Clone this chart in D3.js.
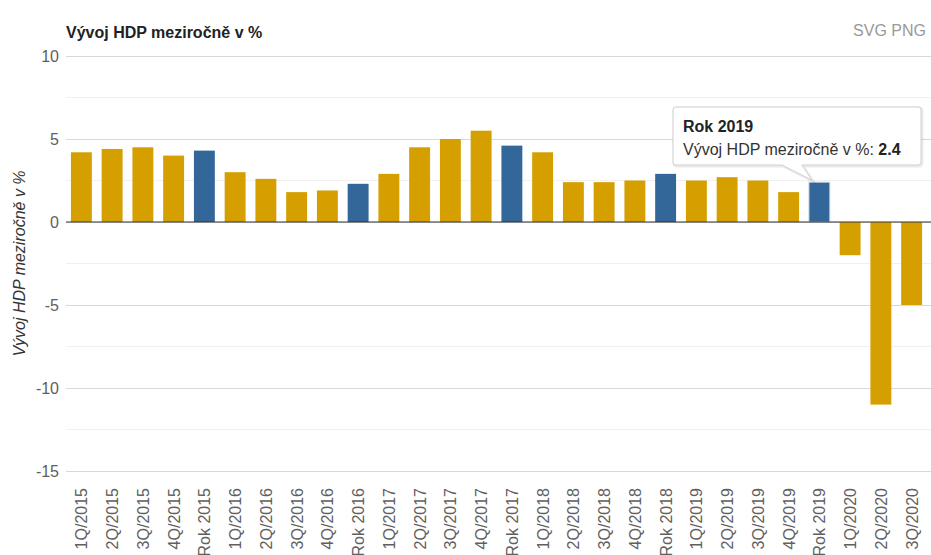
<!DOCTYPE html>
<html>
<head>
<meta charset="utf-8">
<script src="https://cdn.jsdelivr.net/npm/d3@7"></script>
<style>
  body { margin: 0; background: #fff; font-family: "Liberation Sans", Arial, sans-serif; }
  svg { display: block; }
</style>
</head>
<body>
<div id="chart"></div>
<script>
// kategorie (čtvrtletí a roky)
const categories = [
  "1Q/2015", "2Q/2015", "3Q/2015", "4Q/2015", "Rok 2015",
  "1Q/2016", "2Q/2016", "3Q/2016", "4Q/2016", "Rok 2016",
  "1Q/2017", "2Q/2017", "3Q/2017", "4Q/2017", "Rok 2017",
  "1Q/2018", "2Q/2018", "3Q/2018", "4Q/2018", "Rok 2018",
  "1Q/2019", "2Q/2019", "3Q/2019", "4Q/2019", "Rok 2019",
  "1Q/2020", "2Q/2020", "3Q/2020"
];
// meziroční vývoj HDP v %
const values = [
  4.2, 4.4, 4.5, 4.0, 4.3,
  3.0, 2.6, 1.8, 1.9, 2.3,
  2.9, 4.5, 5.0, 5.5, 4.6,
  4.2, 2.4, 2.4, 2.5, 2.9,
  2.5, 2.7, 2.5, 1.8, 2.4,
  -2.0, -11.0, -5.0
];
const majorTicks = [-15, -10, -5, 0, 5, 10];
const minorTicks = [-12.5, -7.5, -2.5, 2.5, 7.5];
const title = "Vývoj HDP meziročně v %";
const hovered = "Rok 2019";

const W = 931, H = 555;
const margin = {top: 56, right: 4, bottom: 84, left: 66};

const svg = d3.select("#chart").append("svg")
    .attr("width", W)
    .attr("height", H);

const x = d3.scaleBand()
    .domain(categories)
    .range([margin.left, W - margin.right])
    .paddingInner(0.32)
    .paddingOuter(0.16);

const y = d3.scaleLinear()
    .domain([-15, 10])
    .range([H - margin.bottom, margin.top]);

// mřížka
svg.append("g")
  .selectAll("line")
  .data(minorTicks)
  .join("line")
    .attr("x1", margin.left)
    .attr("x2", W)
    .attr("y1", d => y(d))
    .attr("y2", d => y(d))
    .attr("stroke", "#f0f0f0")
    .attr("stroke-width", 1);

const yAxis = svg.append("g")
    .attr("transform", `translate(${margin.left},0)`)
    .call(d3.axisLeft(y)
      .tickValues(majorTicks)
      .tickFormat(d => String(d))
      .tickSize(-(W - margin.left))
      .tickPadding(7));
yAxis.select(".domain").remove();
yAxis.selectAll(".tick line").attr("stroke", "#d8d8d8");
yAxis.selectAll(".tick text")
    .attr("fill", "#606060")
    .style("font-size", "16px")
    .style("font-family", "Liberation Sans, Arial, sans-serif");

// sloupce
svg.append("g")
  .selectAll("rect")
  .data(values)
  .join("rect")
    .attr("x", (d, i) => x(categories[i]))
    .attr("width", x.bandwidth())
    .attr("y", d => y(Math.max(0, d)))
    .attr("height", d => Math.abs(y(d) - y(0)))
    .attr("fill", (d, i) => categories[i].startsWith("Rok") ? "#336699" : "#d59f00")
    .attr("stroke", (d, i) => categories[i] === hovered ? "#cfd8e2" : "none")
    .attr("stroke-width", 1);

// nulová čára
svg.append("line")
    .attr("x1", margin.left)
    .attr("x2", W)
    .attr("y1", y(0))
    .attr("y2", y(0))
    .attr("stroke", "#333")
    .attr("stroke-width", 1.2);

// popisky osy x
svg.append("g")
  .selectAll("text")
  .data(categories)
  .join("text")
    .attr("transform", d => `translate(${x(d) + x.bandwidth() / 2 + 6},${H - margin.bottom + 17}) rotate(-90)`)
    .attr("text-anchor", "end")
    .attr("fill", "#606060")
    .style("font-size", "16px")
    .text(d => d);

// nadpis
svg.append("text")
    .attr("x", margin.left)
    .attr("y", 38)
    .attr("font-weight", "bold")
    .attr("fill", "#222")
    .style("font-size", "16px")
    .text(title);

svg.append("text")
    .attr("x", 926)
    .attr("y", 36)
    .attr("text-anchor", "end")
    .attr("fill", "#999")
    .style("font-size", "16px")
    .text("SVG PNG");

// název osy y
svg.append("text")
    .attr("transform", `translate(25,${(margin.top + H - margin.bottom) / 2}) rotate(-90)`)
    .attr("text-anchor", "middle")
    .attr("font-style", "italic")
    .attr("fill", "#333")
    .style("font-size", "16px")
    .text(title);

// tooltip
const hi = categories.indexOf(hovered);
const tipX = x(hovered) + 3;
const tipY = y(values[hi]) - 2;
const bx = 673, by = 107, bw = 248, bh = 58, r = 3;
const tipPath = `M${bx + r},${by} H${bx + bw - r} Q${bx + bw},${by} ${bx + bw},${by + r}
  V${by + bh - r} Q${bx + bw},${by + bh} ${bx + bw - r},${by + bh}
  H${tipX - 10} L${tipX},${tipY} L${tipX - 30},${by + bh}
  H${bx + r} Q${bx},${by + bh} ${bx},${by + bh - r} V${by + r} Q${bx},${by} ${bx + r},${by} Z`;

svg.append("path")
    .attr("d", tipPath)
    .attr("transform", "translate(1,1)")
    .attr("fill", "none")
    .attr("stroke", "rgba(0,0,0,0.08)")
    .attr("stroke-width", 3);
svg.append("path")
    .attr("d", tipPath)
    .attr("fill", "rgba(255,255,255,0.96)")
    .attr("stroke", "#d0d0d0")
    .attr("stroke-width", 1);

svg.append("text")
    .attr("x", bx + 10)
    .attr("y", by + 25)
    .attr("font-weight", "bold")
    .attr("fill", "#222")
    .style("font-size", "16px")
    .text(hovered);

const line2 = svg.append("text")
    .attr("x", bx + 10)
    .attr("y", by + 48)
    .attr("fill", "#333")
    .style("font-size", "16px");
line2.append("tspan").text(title + ": ");
line2.append("tspan").attr("font-weight", "bold").attr("fill", "#222").text(values[hi]);
</script>
</body>
</html>
